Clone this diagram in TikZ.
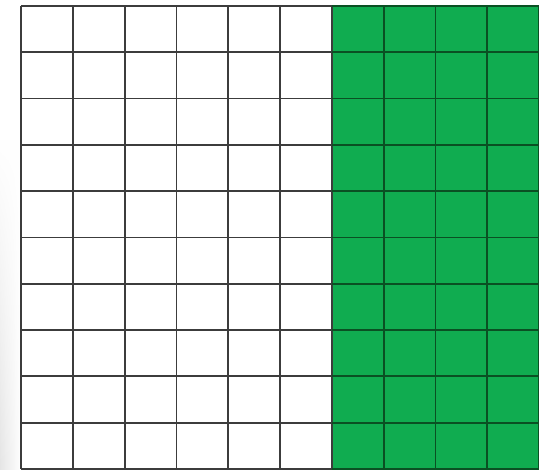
\documentclass[tikz,border=0pt]{standalone}
\usetikzlibrary{fadings}
\definecolor{gridgreen}{RGB}{16,172,80}
\definecolor{gridline}{RGB}{60,60,60}
\definecolor{greenline}{RGB}{10,80,35}
\begin{document}
\begin{tikzpicture}[x=1pt,y=1pt,
  gl/.style={line width=1.8pt,draw=gridline},
  ggl/.style={line width=1.8pt,draw=greenline}]
\useasboundingbox (0,0) rectangle (539,470);
\fill[white] (0,0) rectangle (539,470);
\shade[left color=black!10,right color=white,path fading=north] (0,0) rectangle (21,330);
\pgfmathsetmacro{\dx}{51.8}
\pgfmathsetmacro{\dy}{46.3}
\def\xo{21}
\def\yo{1}
% green area: columns 6..9
\fill[gridgreen] ({\xo+6*\dx},\yo) rectangle ({\xo+10*\dx},{\yo+10*\dy});
% white part lines
\foreach \i in {0,...,6} {
  \draw[gl] ({\xo+\i*\dx},\yo) -- ({\xo+\i*\dx},{\yo+10*\dy});
}
\foreach \j in {0,...,10} {
  \draw[gl] (\xo,{\yo+\j*\dy}) -- ({\xo+6*\dx},{\yo+\j*\dy});
}
% green part lines
\foreach \i in {7,...,10} {
  \draw[ggl] ({\xo+\i*\dx},\yo) -- ({\xo+\i*\dx},{\yo+10*\dy});
}
\foreach \j in {0,...,10} {
  \draw[ggl] ({\xo+6*\dx},{\yo+\j*\dy}) -- ({\xo+10*\dx},{\yo+\j*\dy});
}
\end{tikzpicture}
\end{document}
